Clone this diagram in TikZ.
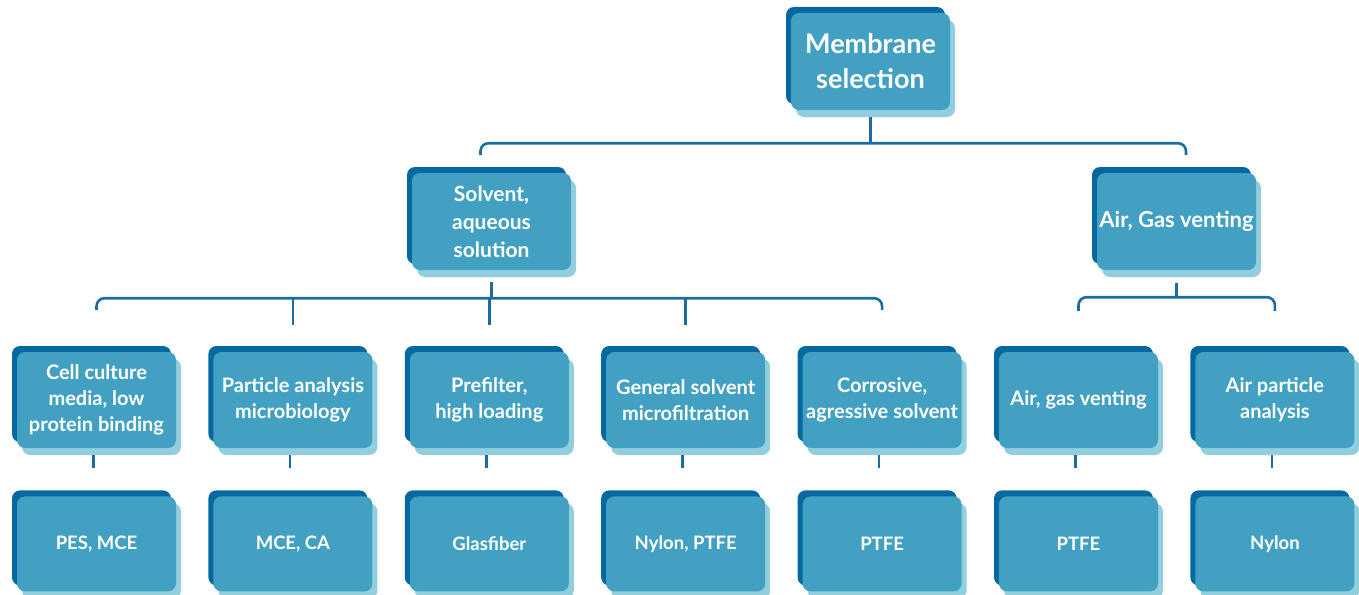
\documentclass[tikz,border=0pt]{standalone}
\usepackage{fontspec}
\setmainfont{Lato}
\usetikzlibrary{positioning,shadows,calc}
\definecolor{cardfill}{RGB}{66,161,195}
\definecolor{carddark}{RGB}{5,104,160}
\definecolor{cardlight}{RGB}{146,206,222}
\definecolor{linkblue}{RGB}{26,109,164}

\begin{document}
\begin{tikzpicture}[x=1pt, y=-1pt,
  card/.style={fill=cardfill, rounded corners=8pt, text=white, align=center,
               minimum width=159pt, minimum height=96pt, inner sep=2pt,
               font=\bfseries\fontsize{20}{26}\selectfont,
               general shadow={fill=carddark, shadow xshift=-5pt, shadow yshift=6pt},
               general shadow={fill=cardlight, shadow xshift=5pt, shadow yshift=-7pt}},
  membrane/.style={card, minimum height=95pt, font=\bfseries\fontsize{18.5}{26}\selectfont},
  link/.style={draw=linkblue, line width=2.6pt, rounded corners=8pt}
]
\useasboundingbox (0,0) rectangle (1359,594);

% top and second level
\node[card, minimum height=97pt, font=\bfseries\fontsize{27}{35}\selectfont]
  (root) at (870.5,61.5) {Membrane\\selection};
\node[card, minimum height=97pt, font=\bfseries\fontsize{21}{28}\selectfont]
  (solvent) at (491.5,221.5) {Solvent,\\aqueous\\solution};
\node[card, minimum height=97pt, font=\bfseries\fontsize{22}{28}\selectfont]
  (air) at (1176.5,221.5) {Air, Gas venting};

% applications
\node[card] (cell) at (96.5,400) {Cell culture\\media, low\\protein binding};
\node[card, right=37pt of cell] (part) {Particle analysis\\microbiology};
\node[card, right=37pt of part] (pre) {Prefilter,\\high loading};
\node[card, right=37pt of pre] (gen) {General solvent\\microfiltration};
\node[card, right=37pt of gen] (corr) {Corrosive,\\agressive solvent};
\node[card, right=37pt of corr] (vent) {Air, gas venting};
\node[card, right=37pt of vent] (airpart) {Air particle\\analysis};

% membranes
\node[membrane, below=48pt of cell] (pes) {PES, MCE};
\node[membrane, below=48pt of part] (mce) {MCE, CA};
\node[membrane, below=48pt of pre] (glas) {Glasfiber};
\node[membrane, below=48pt of gen] (nylptfe) {Nylon, PTFE};
\node[membrane, below=48pt of corr] (ptfea) {PTFE};
\node[membrane, below=48pt of vent] (ptfeb) {PTFE};
\node[membrane, below=48pt of airpart] (nylon) {Nylon};

% brackets
\coordinate (topbar) at ($(root.south)+(0,33)$);
\draw[link] (root.south) ++(0,7) -- (topbar);
\draw[link] ($(solvent.north)+(-11,-18)$) |- (topbar) -| ($(air.north)+(9.5,-18)$);

\coordinate (midbar) at ($(solvent.south)+(0,28)$);
\draw[link] (solvent.south) ++(0,12) -- (midbar);
\draw[link] ($(cell.north)+(0,-42)$) |- (midbar) -| ($(corr.north)+(0,-42)$);
\foreach \n in {part, pre, gen}
  \draw[link] (\n.north |- midbar) -- ++(0,27);

\coordinate (airbar) at ($(air.south)+(0,27)$);
\draw[link] (air.south) ++(0,13) -- (airbar);
\draw[link] ($(vent.north)+(0,-41)$) |- (airbar) -| ($(airpart.north)+(0,-41)$);

\foreach \a/\b in {cell/pes, part/mce, pre/glas, gen/nylptfe, corr/ptfea, vent/ptfeb, airpart/nylon}
  \draw[link, shorten <=7pt, shorten >=28pt] ($(\a.south)+(-3,0)$) -- ($(\b.north)+(-3,0)$);
\end{tikzpicture}
\end{document}
